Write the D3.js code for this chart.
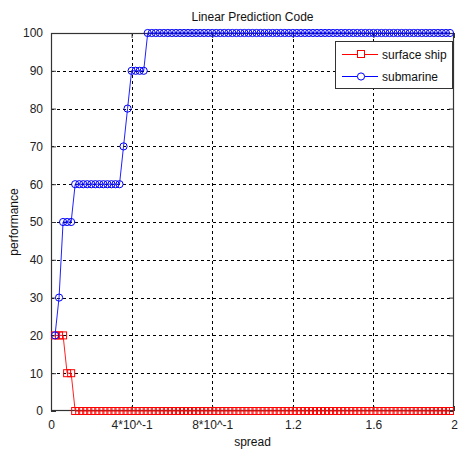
<!DOCTYPE html>
<html><head><meta charset="utf-8">
<script src="https://cdn.jsdelivr.net/npm/d3@7"></script>
<style>body{margin:0;background:#fff}svg{display:block}</style>
</head><body>
<script>
const spread = [
0.02,0.04,0.06,0.08,0.10,0.12,0.14,0.16,0.18,0.20,
0.22,0.24,0.26,0.28,0.30,0.32,0.34,0.36,0.38,0.40,
0.42,0.44,0.46,0.48,0.50,0.52,0.54,0.56,0.58,0.60,
0.62,0.64,0.66,0.68,0.70,0.72,0.74,0.76,0.78,0.80,
0.82,0.84,0.86,0.88,0.90,0.92,0.94,0.96,0.98,1.00,
1.02,1.04,1.06,1.08,1.10,1.12,1.14,1.16,1.18,1.20,
1.22,1.24,1.26,1.28,1.30,1.32,1.34,1.36,1.38,1.40,
1.42,1.44,1.46,1.48,1.50,1.52,1.54,1.56,1.58,1.60,
1.62,1.64,1.66,1.68,1.70,1.72,1.74,1.76,1.78,1.80,
1.82,1.84,1.86,1.88,1.90,1.92,1.94,1.96,1.98];
const surfaceShip = [
20,20,20,10,10,0,0,0,0,0,
0,0,0,0,0,0,0,0,0,0,
0,0,0,0,0,0,0,0,0,0,
0,0,0,0,0,0,0,0,0,0,
0,0,0,0,0,0,0,0,0,0,
0,0,0,0,0,0,0,0,0,0,
0,0,0,0,0,0,0,0,0,0,
0,0,0,0,0,0,0,0,0,0,
0,0,0,0,0,0,0,0,0,0,
0,0,0,0,0,0,0,0,0];
const submarine = [
20,30,50,50,50,60,60,60,60,60,
60,60,60,60,60,60,60,70,80,90,
90,90,90,100,100,100,100,100,100,100,
100,100,100,100,100,100,100,100,100,100,
100,100,100,100,100,100,100,100,100,100,
100,100,100,100,100,100,100,100,100,100,
100,100,100,100,100,100,100,100,100,100,
100,100,100,100,100,100,100,100,100,100,
100,100,100,100,100,100,100,100,100,100,
100,100,100,100,100,100,100,100,100];
const xTicks = [0,0.4,0.8,1.2,1.6,2];
const xTickLabels = ["0","4*10^-1","8*10^-1","1.2","1.6","2"];
const yTicks = [0,10,20,30,40,50,60,70,80,90,100];
const seriesNames = ["surface ship","submarine"];
const title = "Linear Prediction Code";
const xLabel = "spread", yLabel = "performance";

const W=459,H=450;
const L=51,R=454,T=33,B=411;
const font = "'Liberation Sans', Arial, sans-serif";
const svg = d3.select("body").append("svg").attr("width",W).attr("height",H);
const x = d3.scaleLinear().domain([0,2]).range([L,R]);
const y = d3.scaleLinear().domain([0,100]).range([B,T]);

svg.append("rect").attr("x",L).attr("y",T).attr("width",R-L).attr("height",B-T).attr("fill","#fff");

// grid
const g = svg.append("g");
g.selectAll(".gx").data(xTicks.filter(d=>d>0&&d<2)).enter().append("line")
 .attr("x1",d=>Math.round(x(d))+0.5).attr("x2",d=>Math.round(x(d))+0.5).attr("y1",T).attr("y2",B)
 .attr("stroke","#000").attr("stroke-dasharray","3,3").attr("stroke-width",1);
g.selectAll(".gy").data(yTicks.filter(d=>d>0&&d<100)).enter().append("line")
 .attr("y1",d=>Math.round(y(d))+0.5).attr("y2",d=>Math.round(y(d))+0.5).attr("x1",L).attr("x2",R)
 .attr("stroke","#000").attr("stroke-dasharray","3,3").attr("stroke-width",1);

// axes with inward ticks
const axB = d3.axisBottom(x).tickValues(xTicks).tickFormat((d,i)=>xTickLabels[i]).tickSizeInner(-5).tickSizeOuter(0).tickPadding(9);
const axL = d3.axisLeft(y).tickValues(yTicks).tickSizeInner(-5).tickSizeOuter(0).tickPadding(8);
const axT = d3.axisTop(x).tickValues(xTicks).tickFormat("").tickSizeInner(-5).tickSizeOuter(0);
const axR = d3.axisRight(y).tickValues(yTicks).tickFormat("").tickSizeInner(-5).tickSizeOuter(0);
function style(sel){
  sel.selectAll("path").remove();
  sel.selectAll("line").attr("stroke","#333");
  sel.selectAll("text").attr("font-family",font).attr("font-size","12px").attr("fill","#222");
}
svg.append("g").attr("transform",`translate(0,${B})`).call(axB).call(style);
svg.append("g").attr("transform",`translate(${L},0)`).call(axL).call(style);
svg.append("g").attr("transform",`translate(0,${T})`).call(axT).call(style);
svg.append("g").attr("transform",`translate(${R},0)`).call(axR).call(style);
svg.append("rect").attr("x",L+0.5).attr("y",T+0.5).attr("width",R-L-1).attr("height",B-T-1)
 .attr("fill","none").attr("stroke","#333").attr("stroke-width",1.2);

const line = d3.line().x((d,i)=>x(spread[i])).y(d=>y(d));
// surface ship
svg.append("path").datum(surfaceShip).attr("d",line).attr("fill","none").attr("stroke","#ff2020").attr("stroke-width",1);
svg.append("g").selectAll("rect").data(surfaceShip).enter().append("rect")
 .attr("x",(d,i)=>x(spread[i])-3.5).attr("y",d=>y(d)-3.5).attr("width",7).attr("height",7)
 .attr("fill","none").attr("stroke","#ff0000").attr("stroke-width",1);
// submarine
svg.append("path").datum(submarine).attr("d",line).attr("fill","none").attr("stroke","#2020ff").attr("stroke-width",1);
svg.append("g").selectAll("circle").data(submarine).enter().append("circle")
 .attr("cx",(d,i)=>x(spread[i])).attr("cy",d=>y(d)).attr("r",3.6)
 .attr("fill","none").attr("stroke","#0000ff").attr("stroke-width",1);

// labels
svg.append("text").attr("x",(L+R)/2).attr("y",21).attr("text-anchor","middle")
 .attr("font-family",font).attr("font-size","12px").attr("fill","#111").text(title);
svg.append("text").attr("x",(L+R)/2).attr("y",446).attr("text-anchor","middle")
 .attr("font-family",font).attr("font-size","12px").attr("fill","#111").text(xLabel);
svg.append("text").attr("transform",`translate(18,${(T+B)/2}) rotate(-90)`).attr("text-anchor","middle")
 .attr("font-family",font).attr("font-size","12px").attr("fill","#111").text(yLabel);

// legend
const lg = svg.append("g");
lg.append("rect").attr("x",335.5).attr("y",41.5).attr("width",117).attr("height",47)
 .attr("fill","#fff").attr("stroke","#333").attr("stroke-width",1);
const rows=[54,76];
seriesNames.forEach((n,i)=>{
  const c = i===0?"#ff0000":"#0000ff";
  lg.append("line").attr("x1",342).attr("x2",378).attr("y1",rows[i]+0.5).attr("y2",rows[i]+0.5).attr("stroke",c);
  if(i===0) lg.append("rect").attr("x",361-3.5).attr("y",rows[i]-3.5).attr("width",7).attr("height",7).attr("fill","#fff").attr("stroke",c);
  else lg.append("circle").attr("cx",361).attr("cy",rows[i]+0.5).attr("r",3.6).attr("fill","#fff").attr("stroke",c);
  lg.append("text").attr("x",382).attr("y",rows[i]+4.5).attr("font-family",font).attr("font-size","12px").attr("fill","#111").text(n);
});
</script>
</body></html>
